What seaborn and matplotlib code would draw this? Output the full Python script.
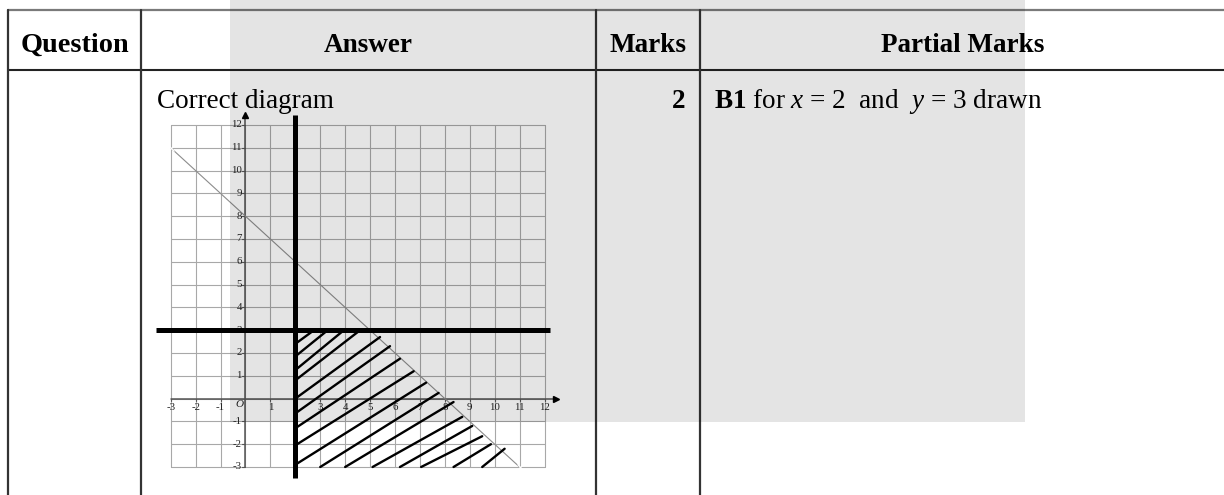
import matplotlib
matplotlib.use("Agg")
import matplotlib.pyplot as plt
import seaborn as sns
import pandas as pd
from matplotlib.patches import Rectangle

# ---- table content ----
headers = ["Question", "Answer", "Marks", "Partial Marks"]
answer_text = "Correct diagram"
marks_value = "2"
partial_text = r"$\mathbf{B1}$ for $x$ = 2  and  $y$ = 3 drawn"

# ---- graph content ----
grid_min, grid_max = -3, 12
tick_values = [-3, -2, -1, 1, 2, 3, 4, 5, 6, 7, 8, 9, 10, 11, 12]
tick_labels = [str(v) for v in tick_values]
boundary_x = [-3, 11]          # x + y = 8
boundary_y = [11, -3]
vertical_line_x = 2            # x = 2
horizontal_line_y = 3          # y = 3

# shading strokes of the region x >= 2, y <= 3, x + y <= 8
hatch_x0 = [2, 2, 2, 2, 2, 2, 2, 2, 2, 3, 4, 5.1, 6.2, 7.05, 8.35, 9.5]
hatch_y0 = [2.4, 1.85, 1.25, 0.8, 0, -0.65, -1.3, -2.05, -2.9, -3, -3, -3, -3, -3, -3, -3]
hatch_x1 = [2.75, 3.3, 3.95, 4.6, 5.4, 5.8, 6.2, 6.75, 7.25, 7.75, 8.35, 8.7, 9.1, 9.5, 9.85, 10.4]
hatch_y1 = [3, 3, 3, 3, 2.7, 2.3, 1.75, 1.2, 0.7, 0.25, -0.15, -0.8, -1.2, -1.65, -2, -2.2]

sns.set_theme(style="white")
plt.rcParams["font.family"] = ["Liberation Serif", "DejaVu Serif"]
plt.rcParams["mathtext.fontset"] = "custom"
plt.rcParams["mathtext.rm"] = "Liberation Serif"
plt.rcParams["mathtext.it"] = "Liberation Serif:italic"
plt.rcParams["mathtext.bf"] = "Liberation Serif:bold"

W, H = 1224, 495
fig = plt.figure(figsize=(W / 100, H / 100), dpi=100, facecolor="white")

# ---- table layer, pixel coordinates ----
tab = fig.add_axes([0, 0, 1, 1])
tab.set_xlim(0, W)
tab.set_ylim(H, 0)
tab.axis("off")

col_edges = [8, 141, 596, 700, 1226]
top_y, head_y = 10, 70
tab.plot([col_edges[0], W], [top_y, top_y], color="#7a7a7a", lw=1.6)
tab.plot([col_edges[0], W], [head_y, head_y], color="#222222", lw=1.5)
for xe in col_edges[:4]:
    tab.plot([xe, xe], [top_y, H], color="#333333", lw=1.6)

head_fs = 19.5
for i, h in enumerate(headers):
    cx = (col_edges[i] + col_edges[i + 1]) / 2
    tab.text(cx, 45, h, ha="center", va="center", fontsize=head_fs + (0.8 if i == 0 else 0),
             fontweight="bold", color="black")

row_y = 101
tab.text(157, row_y, answer_text, ha="left", va="center", fontsize=head_fs, color="black")
tab.text(685, row_y, marks_value, ha="right", va="center", fontsize=head_fs,
         fontweight="bold", color="black")
tab.text(714, row_y, partial_text, ha="left", va="center", fontsize=head_fs, color="black")

# ---- graph layer ----
gx0, gx1 = 170.7, 544.5     # pixel positions of x = -3 and x = 12
gy1, gy0 = 125.0, 467.0     # pixel positions of y = 12 and y = -3
ux = (gx1 - gx0) / (grid_max - grid_min)
uy = (gy0 - gy1) / (grid_max - grid_min)
xlo, xhi = -3.8, 12.7
ylo, yhi = -3.7, 12.7
ax_l = gx0 + (xlo - grid_min) * ux
ax_r = gx0 + (xhi - grid_min) * ux
ax_b = gy0 - (ylo - grid_min) * uy
ax_t = gy0 - (yhi - grid_min) * uy
ax = fig.add_axes([ax_l / W, 1 - ax_b / H, (ax_r - ax_l) / W, (ax_b - ax_t) / H])
ax.set_xlim(xlo, xhi)
ax.set_ylim(ylo, yhi)
ax.axis("off")
ax.patch.set_alpha(0)

# square grid
for v in range(grid_min, grid_max + 1):
    ax.plot([v, v], [grid_min, grid_max], color="#a8a8a8", lw=0.8, zorder=1)
    ax.plot([grid_min, grid_max], [v, v], color="#a8a8a8", lw=0.8, zorder=1)

# coordinate axes with arrow heads
ax.plot([grid_min, grid_max + 0.45], [0, 0], color="#555555", lw=1.1, zorder=2)
ax.plot([0, 0], [grid_min, grid_max + 0.45], color="#555555", lw=1.1, zorder=2)
ax.plot([grid_max + 0.45], [0], marker=">", ms=4.5, color="black", zorder=3, clip_on=False)
ax.plot([0], [grid_max + 0.45], marker="^", ms=4.5, color="black", zorder=3, clip_on=False)

# tick marks and labels
for v, lab in zip(tick_values, tick_labels):
    ax.plot([v, v], [0, -0.12], color="#555555", lw=0.8, zorder=2)
    ax.plot([0, -0.12], [v, v], color="#555555", lw=0.8, zorder=2)
    ax.text(v, -0.38, lab, ha="center", va="center", fontsize=7.8, color="#222222", zorder=3)
    ax.text(-0.14, v, lab, ha="right", va="center", fontsize=7.8, color="#222222", zorder=3)
ax.text(-0.26, -0.24, "O", ha="center", va="center", fontsize=8, style="italic",
        color="#222222", zorder=3)

# boundary x + y = 8
sns.lineplot(x=boundary_x, y=boundary_y, ax=ax, color="#8c8c8c", lw=0.8,
             marker="x", markersize=4, markeredgewidth=0.8, sort=False, zorder=3)

# shading strokes
seg_rows = []
for k, (a, b, c, d) in enumerate(zip(hatch_x0, hatch_y0, hatch_x1, hatch_y1)):
    seg_rows.append({"seg": k, "x": a, "y": b})
    seg_rows.append({"seg": k, "x": c, "y": d})
hatch_df = pd.DataFrame(seg_rows)
sns.lineplot(data=hatch_df, x="x", y="y", units="seg", estimator=None, sort=False,
             ax=ax, color="black", lw=1.7, zorder=4)

# lines x = 2 and y = 3
ax.plot([vertical_line_x, vertical_line_x], [-3.47, 12.43], color="black", lw=3.6,
        solid_capstyle="butt", zorder=5)
ax.plot([-3.6, 12.22], [horizontal_line_y, horizontal_line_y], color="black", lw=3.6,
        solid_capstyle="butt", zorder=5)
if ax.get_legend() is not None:
    ax.get_legend().remove()

# ---- translucent grey panel over the page ----
over = fig.add_axes([0, 0, 1, 1], zorder=10)
over.set_xlim(0, W)
over.set_ylim(H, 0)
over.axis("off")
over.patch.set_alpha(0)
over.add_patch(Rectangle((230, 0), 795, 421.7, facecolor="black", alpha=0.105, lw=0))

fig.savefig("out.png", dpi=100, facecolor="white")
